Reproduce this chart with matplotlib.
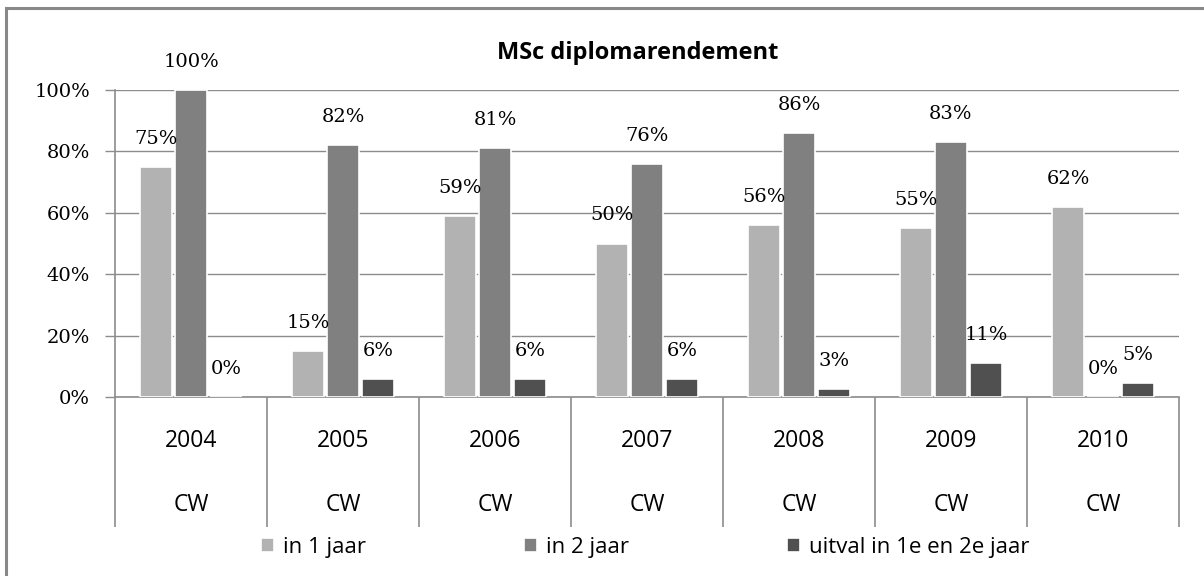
import matplotlib.pyplot as plt
import numpy as np
from matplotlib.patches import Rectangle
import matplotlib.transforms as mtransforms

years = ['2004', '2005', '2006', '2007', '2008', '2009', '2010']
programme = ['CW'] * 7
in_1_jaar = [75, 15, 59, 50, 56, 55, 62]
in_2_jaar = [100, 82, 81, 76, 86, 83, 0]
uitval = [0, 6, 6, 6, 2.5, 11, 4.5]
uitval_labels = ['0%', '6%', '6%', '6%', '3%', '11%', '5%']
series_names = ['in 1 jaar', 'in 2 jaar', 'uitval in 1e en 2e jaar']
colors = ['#b2b2b2', '#808080', '#505050']

serif = ['DejaVu Serif']
sans = ['Open Sans', 'DejaVu Sans']

fig = plt.figure(figsize=(12.04, 5.76), dpi=100)
ax = fig.add_axes([115 / 1204, 1 - 397 / 576, 1064 / 1204, 307 / 576])

# outer chart frame (only left and top visible, rest cropped)
fig.patches.append(Rectangle((6 / 1204, -0.1), 1.2, 1.1 - 8 / 576, transform=fig.transFigure,
                             fill=False, edgecolor='#888888', linewidth=2.2))

x = np.arange(len(years))
w = 0.21
step = 0.23
series = [in_1_jaar, in_2_jaar, uitval]
handles = []
for i, (vals, c) in enumerate(zip(series, colors)):
    pos = x + (i - 1) * step
    b = ax.bar(pos, vals, width=w, color=c, edgecolor='white', linewidth=1.2, zorder=3,
               label=series_names[i])
    handles.append(b)
    for j, (p, v) in enumerate(zip(pos, vals)):
        lab = uitval_labels[j] if i == 2 else f'{int(round(v))}%'
        ax.annotate(lab, (p, v), xytext=(0, 28 * 0.72), textcoords='offset points',
                    ha='center', va='center', fontsize=14, family=serif, color='black',
                    annotation_clip=False, zorder=4)

ax.set_xlim(-0.5, len(years) - 0.5)
ax.set_ylim(0, 100)
ax.set_yticks(range(0, 101, 20))
ax.set_yticklabels([f'{t}%' for t in range(0, 101, 20)], family=serif, fontsize=14)
ax.yaxis.grid(True, color='#8c8c8c', linewidth=1.0, zorder=0)
ax.tick_params(axis='y', length=7, color='#8c8c8c', width=1.0, pad=11)

for s in ['top', 'right']:
    ax.spines[s].set_visible(False)
for s in ['left', 'bottom']:
    ax.spines[s].set_color('#8c8c8c')
    ax.spines[s].set_linewidth(1.2)

# category separators below the axis
ax.set_xticks(np.arange(-0.5, len(years)), minor=True)
ax.set_xticks([])
ax.tick_params(axis='x', which='minor', length=130 * 0.72, color='#8c8c8c', width=1.2,
               direction='out')

trans = mtransforms.blended_transform_factory(ax.transData, fig.transFigure)
for xi, yr, pr in zip(x, years, programme):
    ax.text(xi, 1 - 441 / 576, yr, transform=trans, ha='center', va='center',
            fontsize=16.5, family=sans)
    ax.text(xi, 1 - 505 / 576, pr, transform=trans, ha='center', va='center',
            fontsize=16.5, family=sans)

fig.text(638 / 1204, 1 - 53 / 576, 'MSc diplomarendement', ha='center', va='center',
         fontsize=17, fontweight='bold', family=sans)

fig.legend(handles=handles, loc='center', bbox_to_anchor=(645 / 1204, 1 - 547 / 576), ncol=3,
           frameon=False, prop={'family': sans, 'size': 16}, handlelength=0.6,
           handleheight=0.6, handletextpad=0.4, columnspacing=7.1)

fig.savefig('out.png', dpi=100)
